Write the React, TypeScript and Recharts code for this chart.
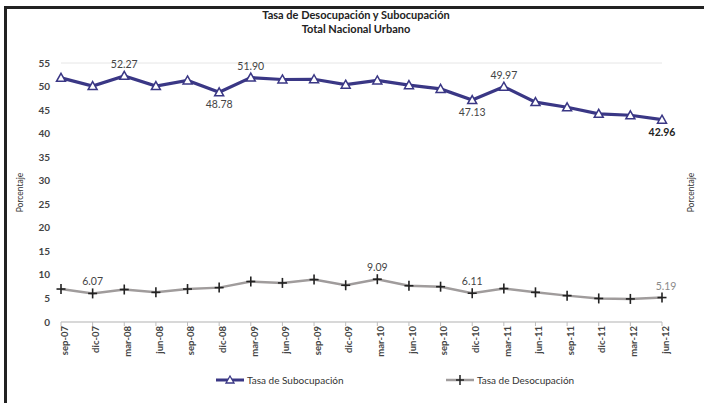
import { LineChart, Line, XAxis, YAxis, CartesianGrid, Legend, LabelList } from "recharts";

const periods = [
  "sep-07", "dic-07", "mar-08", "jun-08", "sep-08", "dic-08", "mar-09", "jun-09", "sep-09", "dic-09",
  "mar-10", "jun-10", "sep-10", "dic-10", "mar-11", "jun-11", "sep-11", "dic-11", "mar-12", "jun-12",
];
const subocupacion = [51.85, 50.1, 52.27, 50.1, 51.3, 48.78, 51.9, 51.5, 51.55, 50.4, 51.3, 50.3, 49.5, 47.13, 49.97, 46.7, 45.6, 44.2, 43.9, 42.96];
const desocupacion = [7.0, 6.07, 6.9, 6.3, 7.0, 7.3, 8.6, 8.3, 9.0, 7.8, 9.09, 7.7, 7.5, 6.11, 7.1, 6.3, 5.6, 5.0, 4.9, 5.19];
// periods that carry a value label
const subLabeled = ["mar-08", "dic-08", "mar-09", "dic-10", "mar-11", "jun-12"];
const desLabeled = ["dic-07", "mar-10", "dic-10", "jun-12"];
const yTicks = [0, 5, 10, 15, 20, 25, 30, 35, 40, 45, 50, 55];

const data = periods.map((p, i) => ({
  periodo: p,
  sub: subocupacion[i],
  des: desocupacion[i],
}));

const FONT = "Lato, 'Open Sans', sans-serif";
const NAVY = "#3a3785";
const GRAY = "#a09c9c";

const Triangle = (props: any) => {
  const { cx, cy } = props;
  if (cx == null || cy == null) return null;
  return (
    <path
      d={`M${cx},${cy - 4.5} L${cx + 4.5},${cy + 3.5} L${cx - 4.5},${cy + 3.5} Z`}
      fill="#fff"
      stroke={NAVY}
      strokeWidth={1.5}
    />
  );
};

const Plus = (props: any) => {
  const { cx, cy } = props;
  if (cx == null || cy == null) return null;
  return (
    <g stroke="#222" strokeWidth={1.6}>
      <line x1={cx - 4.5} x2={cx + 4.5} y1={cy} y2={cy} />
      <line x1={cx} x2={cx} y1={cy - 5} y2={cy + 5} />
    </g>
  );
};

// above at local peaks, below at local dips
const subLabel = (props: any) => {
  const { x, y, index, value } = props;
  const p = periods[index];
  if (!subLabeled.includes(p)) return null;
  const prev = subocupacion[index - 1] ?? -Infinity;
  const next = subocupacion[index + 1] ?? -Infinity;
  const above = value >= prev && value >= next;
  const last = index === periods.length - 1;
  return (
    <text
      x={x}
      y={above ? y - 8 : y + 16}
      textAnchor="middle"
      fontSize={10.5}
      fontFamily={FONT}
      fontWeight={last ? 700 : 400}
      fill={last ? "#222" : "#444"}
    >
      {value.toFixed(2)}
    </text>
  );
};

const desLabel = (props: any) => {
  const { x, y, index, value } = props;
  if (!desLabeled.includes(periods[index])) return null;
  const last = index === periods.length - 1;
  return (
    <text x={last ? x + 4 : x} y={y - 8} textAnchor="middle" fontSize={10.5} fontFamily={FONT} fill={last ? "#8a8a8a" : "#444"}>
      {value.toFixed(2)}
    </text>
  );
};

const axisTitle = (cx: number) => (props: any) => {
  const { viewBox } = props;
  const cy = viewBox.y + viewBox.height / 2;
  return (
    <text
      x={cx}
      y={cy}
      transform={`rotate(-90, ${cx}, ${cy})`}
      textAnchor="middle"
      dominantBaseline="central"
      fontSize={8.5}
      fontFamily={FONT}
      fill="#333"
    >
      Porcentaje
    </text>
  );
};

const LegendBox = () => (
  <div style={{ position: "relative", height: 26, fontFamily: FONT, fontSize: 10, color: "#333" }}>
    <div style={{ position: "absolute", left: 193, top: 8, display: "flex", alignItems: "center" }}>
      <svg width={32} height={12}>
        <line x1={2} x2={30} y1={6} y2={6} stroke={NAVY} strokeWidth={3} />
        <path d="M16,2 L20,9 L12,9 Z" fill="#fff" stroke={NAVY} strokeWidth={1.3} />
      </svg>
      <span style={{ marginLeft: 1 }}>Tasa de Subocupación</span>
    </div>
    <div style={{ position: "absolute", left: 423, top: 8, display: "flex", alignItems: "center" }}>
      <svg width={32} height={12}>
        <line x1={2} x2={30} y1={6} y2={6} stroke={GRAY} strokeWidth={2.5} />
        <line x1={12} x2={20} y1={6} y2={6} stroke="#222" strokeWidth={1.5} />
        <line x1={16} x2={16} y1={1} y2={11} stroke="#222" strokeWidth={1.5} />
      </svg>
      <span style={{ marginLeft: 1 }}>Tasa de Desocupación</span>
    </div>
  </div>
);

export default function App() {
  return (
    <div style={{ position: "absolute", left: 0, top: 0, width: 704, height: 403, overflow: "hidden", background: "#fff" }}>
      <div
        style={{
          position: "absolute",
          left: 4,
          top: 6,
          width: 720,
          height: 420,
          borderLeft: "3px solid #222",
          borderTop: "3px solid #222",
        }}
      />
      <div
        style={{
          position: "absolute",
          left: 0,
          top: 8,
          width: 712,
          textAlign: "center",
          fontFamily: FONT,
          fontWeight: 700,
          fontSize: 11,
          lineHeight: "14px",
          color: "#222",
        }}
      >
        <div>Tasa de Desocupación y Subocupación</div>
        <div>Total Nacional Urbano</div>
      </div>
      <div style={{ position: "absolute", left: 0, top: 0 }}>
        <LineChart width={704} height={403} data={data} margin={{ top: 63, right: 0, left: 21, bottom: 11 }}>
          <CartesianGrid vertical={false} stroke="#e6e6e6" strokeWidth={1} />
          <XAxis
            dataKey="periodo"
            interval={0}
            height={44}
            angle={-90}
            textAnchor="end"
            tickSize={4}
            tickMargin={3}
            axisLine={{ stroke: "#bdbdbd" }}
            tickLine={{ stroke: "#bdbdbd" }}
            tick={{ fontSize: 9.5, fontFamily: FONT, fontWeight: 700, fill: "#444", dy: -3 }}
          />
          <YAxis
            yAxisId="left"
            domain={[0, 55]}
            ticks={yTicks}
            width={40}
            axisLine={false}
            tickLine={false}
            tickMargin={5}
            tick={{ fontSize: 10, fontFamily: FONT, fontWeight: 700, fill: "#444" }}
            label={{ content: axisTitle(20) }}
          />
          <YAxis
            yAxisId="right"
            orientation="right"
            domain={[0, 55]}
            width={42}
            axisLine={false}
            tickLine={false}
            tick={false}
            label={{ content: axisTitle(691) }}
          />
          <Legend verticalAlign="bottom" height={26} content={() => <LegendBox />} />
          <Line
            yAxisId="left"
            dataKey="des"
            stroke={GRAY}
            strokeWidth={2.5}
            dot={<Plus />}
            activeDot={false}
            isAnimationActive={false}
          >
            <LabelList dataKey="des" content={desLabel} />
          </Line>
          <Line
            yAxisId="left"
            dataKey="sub"
            stroke={NAVY}
            strokeWidth={3.2}
            dot={<Triangle />}
            activeDot={false}
            isAnimationActive={false}
          >
            <LabelList dataKey="sub" content={subLabel} />
          </Line>
        </LineChart>
      </div>
    </div>
  );
}
